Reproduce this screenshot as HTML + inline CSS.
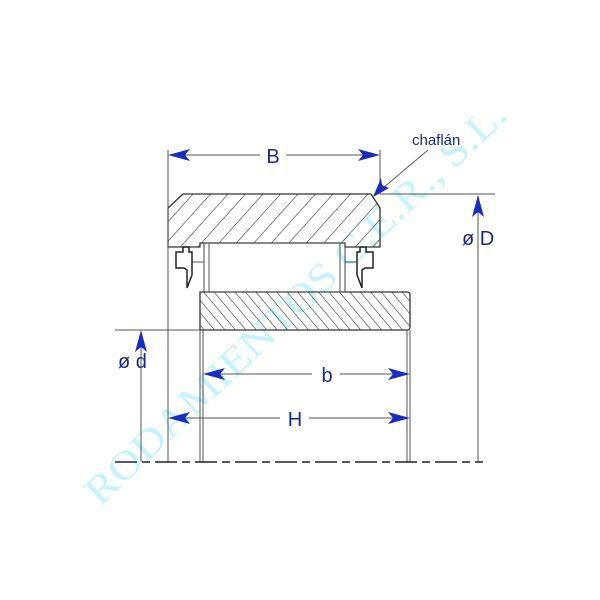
<!DOCTYPE html>
<html><head><style>body{margin:0;background:#fff}svg{display:block}</style></head>
<body>
<svg width="600" height="600" viewBox="0 0 600 600" xmlns="http://www.w3.org/2000/svg">
<defs>
<pattern id="h1" width="13" height="13" patternUnits="userSpaceOnUse" patternTransform="rotate(42)">
<line x1="0" y1="0" x2="0" y2="13" stroke="#222" stroke-width="1.1"/></pattern>
<pattern id="h2" width="8" height="8" patternUnits="userSpaceOnUse" patternTransform="rotate(-40)">
<line x1="0" y1="0" x2="0" y2="8" stroke="#222" stroke-width="1.1"/></pattern>
</defs>
<rect width="600" height="600" fill="#fff"/>
<text x="0" y="0" transform="translate(100,507) rotate(-43.6)" font-family="Liberation Serif, serif" font-size="40" fill="#c4f3fa" textLength="565" lengthAdjust="spacingAndGlyphs">RODAMIENTOS C.E.R., S.L.</text>
<g fill="none" stroke="#555" stroke-width="1">
<path d="M183,194 L371,194 L380,208 L380,247 L345,247 L345,243 L200,243 L200,247 L168,247 L168,208 Z" fill="url(#h1)" stroke="#333" stroke-width="1.3"/>
<path d="M200,292 L407,292 Q410,292 410,295 L410,327 Q410,330 407,330 L200,330 Z" fill="url(#h2)" stroke="#333" stroke-width="1.3"/>
<rect x="204" y="243" width="141" height="49" stroke="#444"/>
<line x1="209" y1="243" x2="209" y2="292"/>
<line x1="340" y1="243" x2="340" y2="292"/>
<line x1="192" y1="262" x2="204" y2="262"/>
<line x1="357" y1="262" x2="345" y2="262"/>
<path d="M183,247 L189,247 L189,252 L192,252 L192,275 L187,288 L187,270 L184,268 L176,268 L176,252 L183,252 Z" stroke="#222" stroke-width="1.5"/>
<path d="M366,247 L360,247 L360,252 L357,252 L357,275 L362,288 L362,270 L365,268 L373,268 L373,252 L366,252 Z" stroke="#222" stroke-width="1.5"/>
<line x1="168" y1="150" x2="168" y2="462"/>
<line x1="380" y1="150" x2="380" y2="194"/>
<line x1="380" y1="194" x2="495" y2="194"/>
<line x1="115" y1="330" x2="200" y2="330"/>
<line x1="200" y1="330" x2="200" y2="462"/>
<line x1="203" y1="330" x2="203" y2="462"/>
<line x1="407" y1="330" x2="407" y2="462"/>
<line x1="410" y1="330" x2="410" y2="462"/>
<line x1="478" y1="196" x2="478" y2="462"/>
<line x1="141" y1="332" x2="141" y2="462"/>
<line x1="170" y1="155" x2="260" y2="155"/><line x1="286" y1="155" x2="378" y2="155"/>
<line x1="205" y1="374" x2="312" y2="374"/><line x1="340" y1="374" x2="408" y2="374"/>
<line x1="170" y1="418" x2="280" y2="418"/><line x1="309" y1="418" x2="408" y2="418"/>
<line x1="428" y1="150" x2="376" y2="194"/>
</g>
<line x1="115" y1="462" x2="483" y2="462" stroke="#222" stroke-width="1.6" stroke-dasharray="22,5,8,5"/>
<g fill="#1a2cc0">
<path d="M168,155 L190,149 L185,155 L190,161 Z"/>
<path d="M380,155 L358,149 L363,155 L358,161 Z"/>
<path d="M203,374 L225,368 L220,374 L225,380 Z"/>
<path d="M410,374 L388,368 L393,374 L388,380 Z"/>
<path d="M168,418 L190,412 L185,418 L190,424 Z"/>
<path d="M410,418 L388,412 L393,418 L388,424 Z"/>
<path d="M478,195 L472,217 L478,212 L484,217 Z"/>
<path d="M141,330 L135,352 L141,347 L147,352 Z"/>
<path d="M373,197 L381,178 L382,185 L389,188 Z"/>
</g>
<g font-family="Liberation Sans, sans-serif" fill="#1c2a8c" font-size="20">
<text x="273" y="163" text-anchor="middle">B</text>
<text x="327" y="382" text-anchor="middle">b</text>
<text x="295" y="426" text-anchor="middle">H</text>
<text x="462" y="245">ø D</text>
<text x="118" y="368">ø d</text>
<text x="412" y="145" font-size="15">chaflán</text>
</g>
</svg>
</body></html>
